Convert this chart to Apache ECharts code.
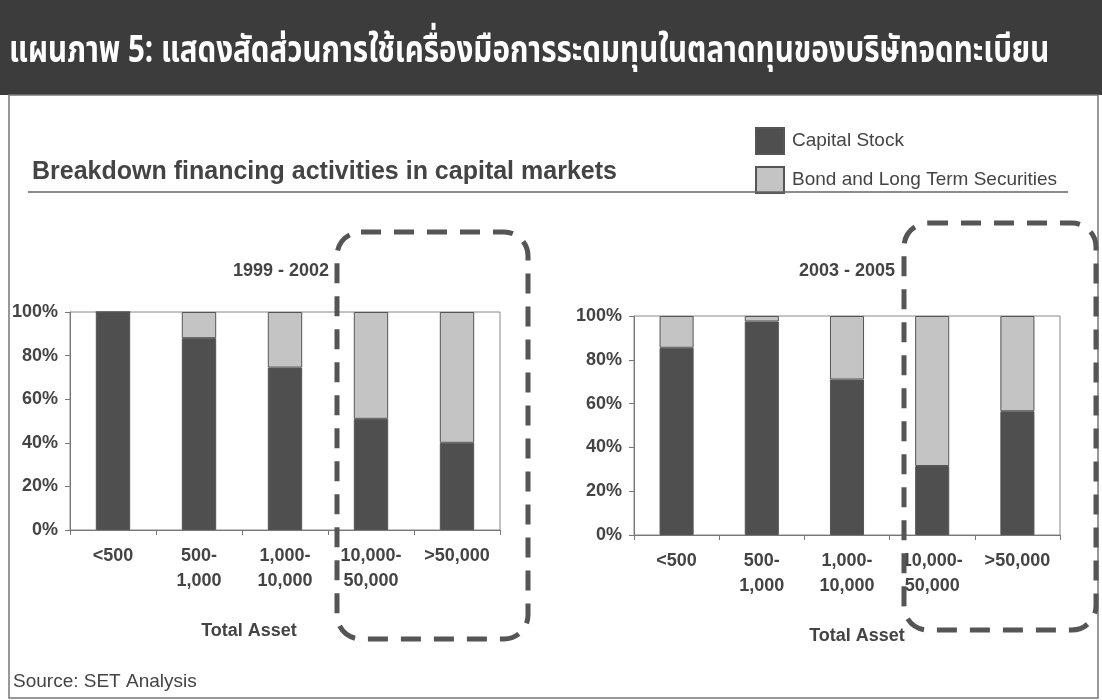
<!DOCTYPE html>
<html>
<head>
<meta charset="utf-8">
<script src="https://cdn.jsdelivr.net/npm/echarts@6/dist/echarts.min.js"></script>
<style>
html,body{margin:0;padding:0;background:#fff;}
#c{width:1102px;height:700px;}
</style>
</head>
<body>
<div id="c"></div>
<script>
const categories = ['<500', '500-\n1,000', '1,000-\n10,000', '10,000-\n50,000', '>50,000'];
const yTickLabels = ['0%', '20%', '40%', '60%', '80%', '100%'];
const capital19992002 = [100, 88, 74.5, 51, 40];
const bond19992002 = [0, 12, 25.5, 49, 60];
const capital20032005 = [85.5, 97.5, 71, 31.5, 56.5];
const bond20032005 = [14.5, 2.5, 29, 68.5, 43.5];

const seriesNames = ['Capital Stock', 'Bond and Long Term Securities'];
const panelTitles = ['1999 - 2002', '2003 - 2005'];
const mainTitle = 'แผนภาพ 5: แสดงสัดส่วนการใช้เครื่องมือการระดมทุนในตลาดทุนของบริษัทจดทะเบียน';
const subTitle = 'Breakdown financing activities in capital markets';
const sourceText = 'Source: SET Analysis';
const axisName = 'Total Asset';

const FONT = '"Liberation Sans", Arial, Helvetica, sans-serif';
const DARK = '#4f4f4f';
const LIGHT = '#c4c4c4';
const TXT = '#444';

const chart = echarts.init(document.getElementById('c'), null, {renderer: 'canvas'});

function xAxis(gi, namePad) {
  return {
    type: 'category', gridIndex: gi, data: categories,
    axisLine: {lineStyle: {color: '#777', width: 1}},
    axisTick: {show: true, alignWithLabel: false, length: 5, lineStyle: {color: '#777'}},
    axisLabel: {color: TXT, fontFamily: FONT, fontWeight: 'bold', fontSize: 18, lineHeight: 25, margin: 14, interval: 0},
    name: axisName, nameLocation: 'middle', nameGap: 92,
    nameTextStyle: {color: TXT, fontFamily: FONT, fontWeight: 'bold', fontSize: 18, padding: namePad}
  };
}
function yAxis(gi) {
  return {
    type: 'value', gridIndex: gi, min: 0, max: 100, interval: 20,
    axisLine: {show: true, lineStyle: {color: '#777', width: 1}},
    axisTick: {show: true, length: 5, lineStyle: {color: '#777'}},
    splitLine: {show: false},
    axisLabel: {color: TXT, fontFamily: FONT, fontWeight: 'bold', fontSize: 18, margin: 12,
      formatter: v => yTickLabels[Math.round(v / 20)]}
  };
}
function bar(name, data, gi, color) {
  return {
    name: name, type: 'bar', stack: 'g' + gi, xAxisIndex: gi, yAxisIndex: gi,
    data: data, barWidth: '40%',
    itemStyle: {color: color, borderColor: '#555', borderWidth: 1},
    emphasis: {disabled: true}, animation: false
  };
}

const option = {
  backgroundColor: '#fff',
  animation: false,
  title: [
    {text: panelTitles[0], left: 276, top: 257, textAlign: 'center',
      textStyle: {color: TXT, fontFamily: FONT, fontWeight: 'bold', fontSize: 18}},
    {text: panelTitles[1], left: 842, top: 257, textAlign: 'center',
      textStyle: {color: TXT, fontFamily: FONT, fontWeight: 'bold', fontSize: 18}}
  ],
  legend: {
    orient: 'vertical', left: 750, top: 122, itemWidth: 28, itemHeight: 26, itemGap: 11,
    icon: 'rect', data: seriesNames, selectedMode: false,
    textStyle: {color: TXT, fontFamily: FONT, fontSize: 19, padding: [0, 0, 0, 3]}
  },
  grid: [
    {left: 70, top: 312, width: 430, height: 218, show: true, borderColor: '#888', borderWidth: 1, backgroundColor: 'transparent'},
    {left: 634, top: 316, width: 426, height: 219, show: true, borderColor: '#888', borderWidth: 1, backgroundColor: 'transparent'}
  ],
  xAxis: [xAxis(0, [0, 72, 0, 0]), xAxis(1, [0, 0, 0, 20])],
  yAxis: [yAxis(0), yAxis(1)],
  series: [
    bar(seriesNames[0], capital19992002, 0, DARK),
    bar(seriesNames[1], bond19992002, 0, LIGHT),
    bar(seriesNames[0], capital20032005, 1, DARK),
    bar(seriesNames[1], bond20032005, 1, LIGHT)
  ],
  graphic: [
    {type: 'rect', z: -1, shape: {x: 0, y: 0, width: 1102, height: 95}, style: {fill: '#3c3c3c'}},
    {type: 'text', x: 9, y: 54, scaleX: 0.82, scaleY: 1.05, z: 10,
      style: {text: mainTitle, fill: '#fff', verticalAlign: 'middle', align: 'left',
        font: 'bold 36px "Noto Sans Thai", "Noto Sans", "DejaVu Sans", sans-serif'}},
    {type: 'rect', z: 0, shape: {x: 9, y: 95, width: 1089, height: 603}, style: {fill: 'none', stroke: '#777', lineWidth: 1.5}},
    {type: 'text', x: 32, y: 172, z: 10,
      style: {text: subTitle, fill: TXT, verticalAlign: 'middle', font: 'bold 25px ' + FONT}},
    {type: 'line', z: 10, shape: {x1: 28, y1: 192, x2: 1068, y2: 192}, style: {stroke: '#666', lineWidth: 1.5}},
    {type: 'text', x: 13, y: 682, z: 10,
      style: {text: sourceText, fill: TXT, verticalAlign: 'middle', font: '19px ' + FONT}},
    {type: 'rect', z: 100, shape: {x: 337, y: 232, width: 191, height: 407, r: 24},
      style: {fill: 'none', stroke: '#555', lineWidth: 5, lineDash: [20, 13]}},
    {type: 'rect', z: 100, shape: {x: 904, y: 223, width: 192, height: 407, r: 24},
      style: {fill: 'none', stroke: '#555', lineWidth: 5, lineDash: [20, 13]}}
  ]
};
chart.setOption(option);
</script>
</body>
</html>
